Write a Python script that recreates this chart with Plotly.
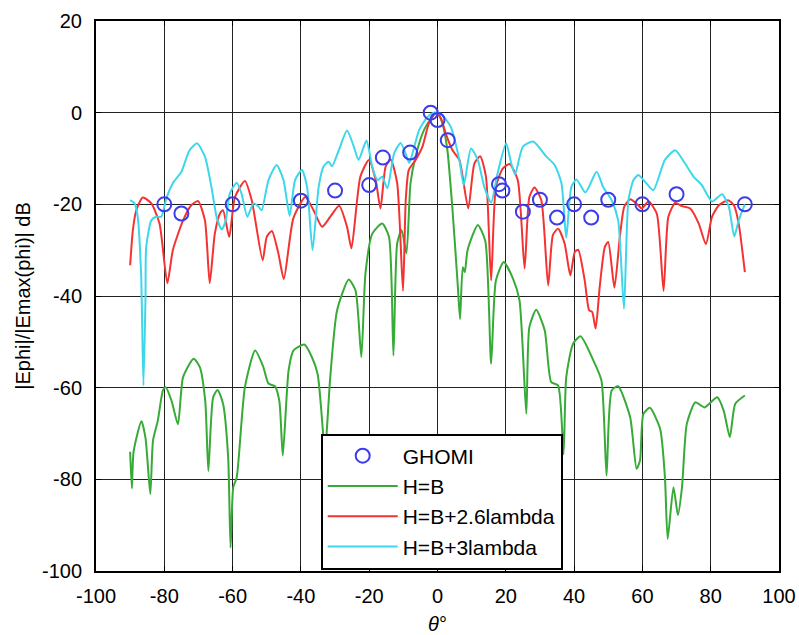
import plotly.graph_objects as go

# ---- data ----
theta_hb = [-90, -89.5, -89, -86.7, -85.5, -84.1, -83.3, -81.9, -80.4, -79.6, -77.9, -76, -74.5, -71.4, -69.6, -68,
            -67.1, -65.7, -64.4, -62.8, -61.3, -60.6, -59.8, -58.8, -56.4, -53.4, -51, -49.5, -47.6, -46.3, -45.3,
            -43.6, -42.2, -39, -36.8, -35.1, -33.5, -33, -32.3, -31.4, -29.4, -26, -24, -22.3, -21.1, -19.1, -16.2,
            -14.2, -12.9, -11.8, -10.5, -9.1, -7.9, -6.4, -3.9, -1, 0, 1.5, 2.9, 4.4, 5.9, 6.6, 7.4, 8, 8.8, 11.8,
            14, 15.7, 17.1, 19.4, 22.1, 24, 26, 26.9, 28.9, 31.4, 33.3, 35.3, 36.9, 37.7, 39.7, 41.9, 45.6, 48,
            49.5, 51, 52.9, 56.4, 58.3, 59.3, 60.3, 62.2, 65.2, 66.6, 67.4, 69.1, 70.4, 71.6, 73, 75.5, 78.2, 81.9,
            83.8, 85.6, 87.2, 90]
val_hb = [-74, -82, -74, -67.3, -71, -83.2, -71.5, -67.2, -60.6, -59.9, -62.8, -68, -57.7, -53.7, -55.5, -63,
          -78.2, -62.1, -60.5, -63.5, -75.2, -94.9, -81.7, -79.6, -59.9, -51.9, -55.5, -59.1, -59.7, -63, -74.8,
          -56.2, -51.9, -50.6, -53.3, -57, -70, -75, -68, -57.7, -43.1, -36.4, -38.8, -53.3, -35.1, -26.4, -24.2,
          -27.1, -53, -28.5, -25.6, -30.7, -15.4, -9.5, -3.7, -0.4, 0, -2.5, -8.2, -21.3, -37.3, -45, -33.7, -34.8,
          -30, -24.5, -28, -54.8, -36.6, -32.6, -36.2, -40.9, -65.7, -46.8, -43, -47.5, -58.8, -59.5, -74.5, -57.7,
          -50.4, -48.8, -54, -58.4, -79.2, -60.6, -59.7, -66.4, -77.7, -75.9, -65.7, -64.4, -69, -79.6, -93,
          -81.7, -87.8, -81.7, -67.9, -63.2, -64.3, -62.1, -65, -70.8, -63.5, -61.7]

theta_26 = [-90, -89.2, -88.2, -86.3, -83.8, -81.4, -79.1, -77.5, -74.5, -72.1, -70.1, -68.1, -66.7, -65.2, -63.7,
            -62.8, -61, -59.3, -56.4, -54.4, -51.2, -50, -48.5, -46.6, -45, -42.2, -38.7, -36.3, -33.8, -31.4,
            -28.8, -26.5, -25.2, -22.6, -20.1, -18.1, -16.7, -15.2, -13.7, -11.8, -10.1, -9.3, -8.4, -6.4, -4.4,
            -2.5, -0.5, 1, 2.4, 4.4, 6.4, 9, 10.8, 12.5, 14.2, 15.7, 17.1, 19.1, 21.1, 23.5, 25.5, 26.9, 28.4,
            30.4, 32.4, 33.8, 35.3, 37.2, 38.9, 40.2, 41.2, 43.1, 44.4, 45.3, 46.3, 47.5, 49, 50, 51.8, 53.4, 54.7,
            56.4, 58.8, 59.8, 61.8, 64.2, 66.2, 67.6, 69.6, 71.6, 74, 76.5, 78.6, 80.4, 82.4, 85.1, 86.8, 88.2, 90]
val_26 = [-33.3, -25.6, -21.3, -18.5, -19.8, -24.2, -37.2, -30, -23.5, -20.2, -19.3, -23.5, -37.2, -26.4, -22,
          -21.3, -27.1, -18.4, -14.9, -19.1, -32.2, -27.1, -25.8, -30.7, -36.3, -23, -18.4, -21.3, -24.9, -22.7,
          -20.3, -24.9, -29.6, -14, -10.3, -14.7, -20.9, -11.8, -10.2, -15.4, -38.9, -19.1, -12.5, -10.3, -7.4,
          -2.3, 0, -1.2, -4.5, -8.2, -10.3, -20.9, -11.1, -9.5, -14, -36.6, -16.2, -12.2, -11.2, -14.7, -34,
          -18.4, -16.3, -19.1, -37.7, -26.7, -25.3, -28.5, -35.5, -30.4, -29.9, -36.6, -43.1, -43.5, -47.1, -38,
          -29.3, -28.2, -38.2, -27.1, -20.5, -18.9, -20.2, -20.9, -19.4, -22, -38.9, -22.7, -19.7, -20.4, -20.9,
          -24.2, -28.7, -22.7, -20.2, -19.1, -20.2, -24.2, -34.8]

theta_3 = [-90, -88.7, -87.8, -86.8, -86.1, -85.5, -85.3, -83.8, -82.4, -80.9, -79.4, -77.5, -75, -72.6, -70.4,
           -68.1, -66.2, -64.7, -63.2, -62, -60.8, -58.8, -57.4, -55.7, -53.9, -52.5, -51.5, -49.5, -47.1, -45.1,
           -43.3, -41.7, -39.7, -38.2, -36.6, -34.8, -33.4, -31.9, -30.9, -28.9, -26.5, -24.5, -23.1, -20.8, -19.1,
           -17.6, -16.2, -14.7, -12.7, -10.8, -9.3, -8.3, -7, -5.4, -3, -1, 1, 2.5, 3.9, 6.4, 7.7, 9.8, 11.8, 13.7,
           15.7, 17.6, 20.1, 21.6, 22.7, 25, 28, 31.9, 34.3, 36.3, 37.7, 39.2, 40.7, 43.3, 46.6, 48.5, 51, 52.9,
           54.6, 55.9, 57.4, 58.8, 60.8, 63.2, 66.6, 69.6, 72.5, 75, 77.4, 80.4, 83.3, 85.3, 86.9, 88.2, 90]
val_3 = [-19.1, -19.8, -22.7, -35, -59.5, -40, -29.3, -23.5, -22.7, -22.7, -18.7, -15.4, -12.9, -8.2, -6.7, -9.6,
         -16.2, -22.7, -25.5, -23.5, -17.6, -15.3, -17.6, -22.7, -19.8, -20.4, -21.3, -14.7, -11.4, -14.7, -22.5,
         -14.7, -12.5, -16.2, -30, -16.2, -11.8, -10.7, -11.7, -8.2, -3.9, -7.4, -10.3, -6.1, -11.8, -14.7, -14,
         -16.5, -8.9, -6.6, -9, -11, -8, -3.8, -1, 0, -0.3, -1.5, -3.1, -10.3, -15.8, -7.8, -10.3, -16.2, -19.6,
         -13.2, -6.7, -11.1, -13.5, -7.4, -6.3, -9.6, -11.4, -15.4, -27.3, -16.2, -14.6, -17.4, -12.9, -16.2, -19.1,
         -23.5, -42.8, -19.1, -14.7, -13.6, -15.1, -16.9, -10.3, -8.2, -11.1, -14, -15.8, -19.4, -17.8, -20.5, -27,
         -23.5, -20]

theta_ghomi = [-80, -75, -60, -40, -30, -20, -16, -8, -2, 0, 3, 18, 19, 25, 30, 35, 40, 45, 50, 60, 70, 90]
val_ghomi = [-20, -22, -20, -19.2, -17, -15.8, -9.8, -8.7, 0, -1.6, -6, -15.6, -17, -21.6, -19, -22.9, -20, -22.9,
             -19, -20, -17.8, -20]

x_ticks = [-100, -80, -60, -40, -20, 0, 20, 40, 60, 80, 100]
y_ticks = [-100, -80, -60, -40, -20, 0, 20]

FONT = "Liberation Sans, Arial, sans-serif"

fig = go.Figure()
fig.add_trace(go.Scatter(x=theta_hb, y=val_hb, mode="lines", name="H=B",
                         line=dict(color="rgb(55,170,55)", width=2, shape="spline", smoothing=0.6),
                         legendrank=2))
fig.add_trace(go.Scatter(x=theta_26, y=val_26, mode="lines", name="H=B+2.6lambda",
                         line=dict(color="rgb(245,50,50)", width=2, shape="spline", smoothing=0.6),
                         legendrank=3))
fig.add_trace(go.Scatter(x=theta_3, y=val_3, mode="lines", name="H=B+3lambda",
                         line=dict(color="rgb(60,215,235)", width=2, shape="spline", smoothing=0.6),
                         legendrank=4))
fig.add_trace(go.Scatter(x=theta_ghomi, y=val_ghomi, mode="markers", name="GHOMI",
                         marker=dict(symbol="circle-open", size=14, color="rgb(60,60,235)",
                                     line=dict(width=2, color="rgb(60,60,235)")), legendrank=1))

axis_common = dict(showgrid=True, gridcolor="#222", gridwidth=1, showline=True, linecolor="black",
                   linewidth=2, mirror="allticks", ticks="inside", ticklen=5, tickcolor="black",
                   tickwidth=1, zeroline=False, automargin=False,
                   tickfont=dict(size=20, color="black", family=FONT))

fig.update_xaxes(range=[-100, 100], tickvals=x_ticks, ticktext=[str(v) for v in x_ticks],
                 title=dict(text="<i>θ</i>°", font=dict(size=20, color="black", family=FONT), standoff=14),
                 ticklabelstandoff=6, **axis_common)
fig.update_yaxes(range=[-100, 20], tickvals=y_ticks, ticktext=[str(v) for v in y_ticks],
                 title=dict(text="|Ephi|/|Emax(phi)| dB", font=dict(size=20, color="black", family=FONT),
                            standoff=6),
                 ticklabelstandoff=8, **axis_common)

fig.update_layout(
    width=799, height=635,
    margin=dict(l=96, r=20, t=21, b=64),
    paper_bgcolor="white", plot_bgcolor="white",
    font=dict(family=FONT, color="black"),
    showlegend=True,
    legend=dict(x=0.329, y=0.25, xanchor="left", yanchor="top", bgcolor="white",
                bordercolor="black", borderwidth=2, font=dict(size=21, color="black", family=FONT),
                itemwidth=70, tracegroupgap=0),
)

fig.write_html("out.html")
